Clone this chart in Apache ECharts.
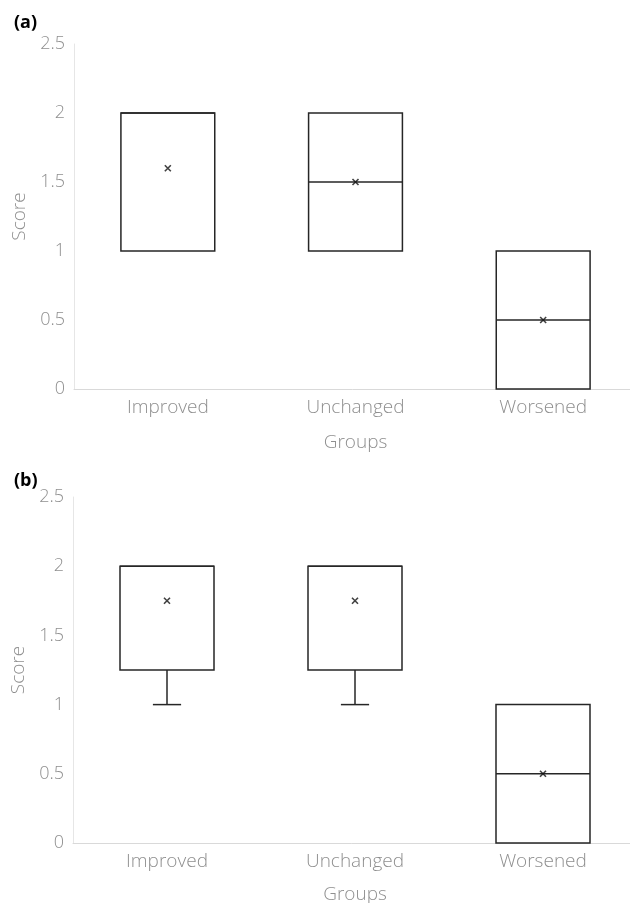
<!DOCTYPE html>
<html>
<head>
<meta charset="utf-8">
<script src="https://cdn.jsdelivr.net/npm/echarts@6/dist/echarts.min.js"></script>
<style>html,body{margin:0;padding:0;background:#fff}#c{width:630px;height:903px}</style>
</head>
<body>
<div id="c"></div>
<script>
// Data
const categories = ['Improved', 'Unchanged', 'Worsened'];
const yTicks = [0, 0.5, 1, 1.5, 2, 2.5];
// [min, Q1, median, Q3, max]
const boxA = [[1, 1, 2, 2, 2], [1, 1, 1.5, 2, 2], [0, 0, 0.5, 1, 1]];
const meanA = [1.6, 1.5, 0.5];
const boxB = [[1, 1.25, 2, 2, 2], [1, 1.25, 2, 2, 2], [0, 0, 0.5, 1, 1]];
const meanB = [1.75, 1.75, 0.5];

const chart = echarts.init(document.getElementById('c'), null, {renderer: 'canvas'});
const FONT = 'Open Sans';
const GREY = '#8f8f8f';
const EDGE = '#262626';

function renderBox(params, api) {
  const x = api.value(0);
  const vals = [api.value(1), api.value(2), api.value(3), api.value(4), api.value(5)];
  const band = api.size([1, 0])[0];
  const half = band * 0.25;
  const cap = band * 0.075;
  const pMin = api.coord([x, vals[0]]);
  const pQ1 = api.coord([x, vals[1]]);
  const pMed = api.coord([x, vals[2]]);
  const pQ3 = api.coord([x, vals[3]]);
  const pMax = api.coord([x, vals[4]]);
  const cx = pQ1[0];
  const style = {stroke: EDGE, lineWidth: 1.5, fill: null};
  const children = [
    {type: 'rect', shape: {x: cx - half, y: pQ3[1], width: 2 * half, height: pQ1[1] - pQ3[1]}, style: {stroke: EDGE, lineWidth: 1.5, fill: '#fff'}},
    {type: 'line', shape: {x1: cx - half, y1: pMed[1], x2: cx + half, y2: pMed[1]}, style: style}
  ];
  if (vals[0] < vals[1]) {
    children.push({type: 'line', shape: {x1: cx, y1: pQ1[1], x2: cx, y2: pMin[1]}, style: style});
    children.push({type: 'line', shape: {x1: cx - cap, y1: pMin[1], x2: cx + cap, y2: pMin[1]}, style: style});
  }
  if (vals[4] > vals[3]) {
    children.push({type: 'line', shape: {x1: cx, y1: pQ3[1], x2: cx, y2: pMax[1]}, style: style});
    children.push({type: 'line', shape: {x1: cx - cap, y1: pMax[1], x2: cx + cap, y2: pMax[1]}, style: style});
  }
  return {type: 'group', children: children};
}

const xSymbol = 'path://M0,0 L10,10 M10,0 L0,10';

function xAxisCfg(idx) {
  return {
    gridIndex: idx, type: 'category', data: categories,
    name: 'Groups', nameLocation: 'middle', nameGap: idx === 0 ? 44 : 42,
    nameTextStyle: {fontFamily: FONT, fontSize: 19, color: GREY, fontWeight: 300},
    axisLine: {lineStyle: {color: '#d9d9d9', width: 1}},
    axisTick: {show: false},
    axisLabel: {fontFamily: FONT, fontSize: 19, color: GREY, fontWeight: 300, margin: 9},
    splitLine: {show: false}
  };
}
function yAxisCfg(idx) {
  return {
    gridIndex: idx, type: 'value', min: 0, max: 2.5, interval: 0.5,
    name: 'Score', nameLocation: 'middle', nameGap: 34,
    nameTextStyle: {fontFamily: FONT, fontSize: 19, color: GREY, fontWeight: 300},
    axisLine: {show: true, lineStyle: {color: '#e6e6e6', width: 1}},
    axisTick: {show: false},
    axisLabel: {fontFamily: FONT, fontSize: 18, color: GREY, fontWeight: 300, margin: 9,
      formatter: v => String(v)},
    splitLine: {show: false}
  };
}

function boxSeries(idx, box) {
  return {
    type: 'custom', xAxisIndex: idx, yAxisIndex: idx,
    renderItem: renderBox,
    encode: {x: 0, y: [1, 2, 3, 4, 5]},
    data: box.map((b, i) => [i].concat(b)),
    z: 2
  };
}
function meanSeries(idx, mean) {
  return {
    type: 'scatter', xAxisIndex: idx, yAxisIndex: idx,
    symbol: xSymbol, symbolSize: 6,
    itemStyle: {color: 'none', borderColor: '#111', borderWidth: 1.6},
    data: mean.map((m, i) => [i, m]),
    z: 5
  };
}

chart.setOption({
  animation: false,
  backgroundColor: '#fff',
  title: [
    {text: '(a)', left: 9, top: 9, textStyle: {fontFamily: FONT, fontSize: 18, fontWeight: 'bold', color: '#000'}},
    {text: '(b)', left: 9, top: 467, textStyle: {fontFamily: FONT, fontSize: 18, fontWeight: 'bold', color: '#000'}}
  ],
  grid: [
    {left: 74, top: 44, width: 563, height: 345, outerBoundsMode: 'none', containLabel: false},
    {left: 73, top: 497, width: 564, height: 346, outerBoundsMode: 'none', containLabel: false}
  ],
  xAxis: [xAxisCfg(0), xAxisCfg(1)],
  yAxis: [yAxisCfg(0), yAxisCfg(1)],
  series: [boxSeries(0, boxA), meanSeries(0, meanA), boxSeries(1, boxB), meanSeries(1, meanB)]
});
</script>
</body>
</html>
